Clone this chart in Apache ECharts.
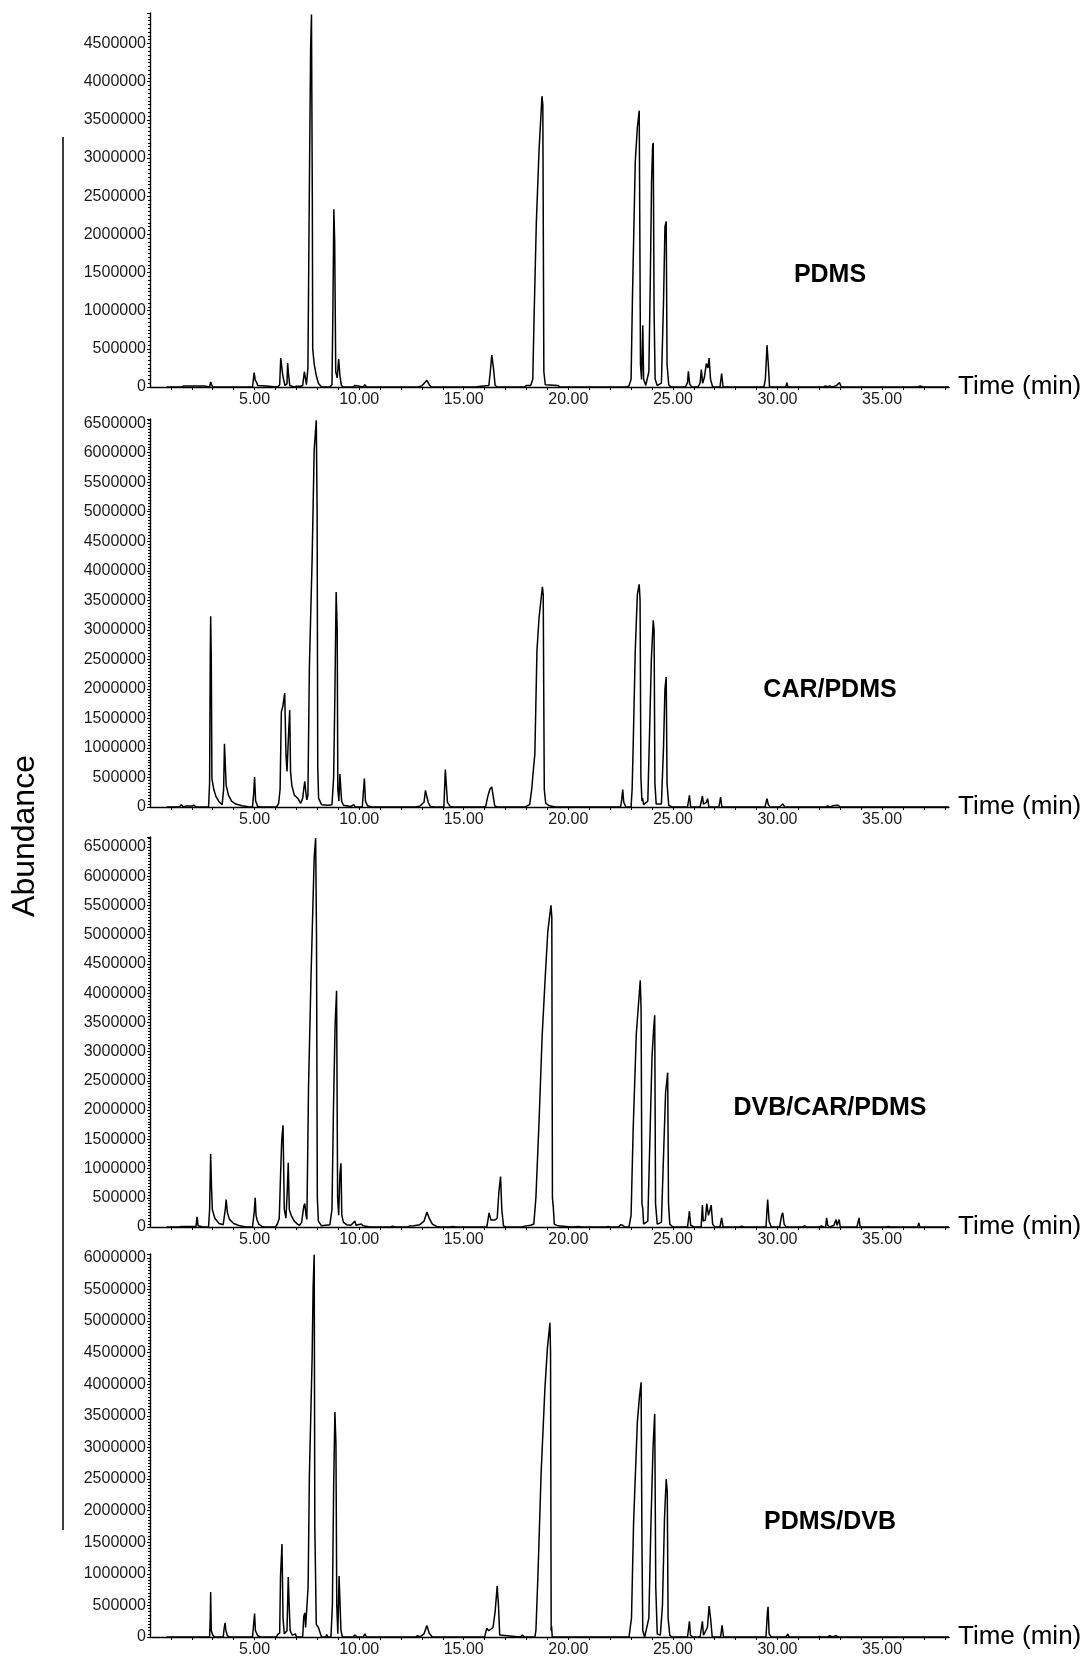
<!DOCTYPE html>
<html>
<head>
<meta charset="utf-8">
<title>Total ion chromatograms by SPME fibre</title>
<script src="https://cdn.jsdelivr.net/npm/echarts@6/dist/echarts.min.js"></script>
<style>
  html, body { margin: 0; padding: 0; background: #fff; }
  #chart { width: 1091px; height: 1660px; }
</style>
</head>
<body>
<div id="chart"></div>
<script>
// fibre names, one panel each, top to bottom
const fibres = ['PDMS', 'CAR/PDMS', 'DVB/CAR/PDMS', 'PDMS/DVB']

// top of each abundance axis
const yMax = [4900000, 6570000, 6670000, 6060000]
const timeMax = 38.2
const timeLabels = [5, 10, 15, 20, 25, 30, 35]

// [time (min), abundance]
const pdms = [
  [0.8, 0], [1.5, 0], [1.6, 12000], [2.6, 12000], [2.65, 0], [2.85, 0], [2.9, 65000], [2.95, 30000], [3.0, 0],
  [3.6, 0], [3.65, 8000], [3.7, 0],
  [4.9, 0], [4.98, 190000], [5.03, 90000], [5.1, 60000], [5.15, 20000], [5.4, 15000], [5.45, 0],
  [6.1, 0], [6.2, 30000], [6.25, 380000], [6.3, 360000], [6.35, 150000], [6.45, 20000], [6.55, 40000],
  [6.58, 315000], [6.62, 180000], [6.68, 20000], [6.9, 0], [7.0, 10000], [7.2, 10000],
  [7.3, 20000], [7.38, 200000], [7.42, 200000], [7.48, 30000], [7.55, 250000], [7.62, 2630000],
  [7.68, 4450000], [7.72, 4880000], [7.76, 2500000], [7.78, 500000], [7.85, 300000], [7.95, 150000],
  [8.05, 50000], [8.2, 0],
  [8.6, 0], [8.7, 30000], [8.74, 900000], [8.79, 2330000], [8.83, 1900000], [8.88, 200000], [8.95, 120000],
  [9.02, 365000], [9.08, 150000], [9.15, 20000], [9.25, 0],
  [9.7, 0], [9.8, 20000], [9.85, 0], [10.2, 0], [10.27, 30000], [10.35, 0],
  [12.8, 0], [13.0, 15000], [13.24, 88000], [13.35, 30000], [13.45, 0],
  [15.6, 0], [15.7, 8000], [16.2, 20000], [16.27, 200000], [16.34, 417000], [16.42, 250000], [16.5, 20000], [16.6, 0],
  [17.9, 0], [18.0, 20000], [18.2, 20000], [18.3, 100000], [18.37, 1000000], [18.47, 2150000], [18.6, 3100000],
  [18.74, 3810000], [18.78, 3700000], [18.83, 200000], [18.9, 30000], [19.5, 20000], [19.6, 0],
  [20.3, 0], [20.35, 10000], [20.4, 0], [21.2, 0], [21.25, 10000], [21.3, 0],
  [22.8, 0], [22.9, 15000], [23.0, 100000], [23.07, 1230000], [23.2, 2950000], [23.3, 3400000], [23.39, 3620000],
  [23.45, 300000], [23.5, 100000], [23.56, 810000], [23.6, 100000], [23.7, 20000], [23.85, 200000],
  [23.92, 1400000], [23.98, 2700000], [24.03, 3150000], [24.06, 3200000], [24.1, 1000000], [24.15, 100000],
  [24.25, 20000], [24.45, 50000], [24.55, 1100000], [24.62, 2100000], [24.68, 2170000], [24.72, 300000],
  [24.8, 30000], [24.9, 0],
  [25.6, 0], [25.7, 60000], [25.74, 206000], [25.8, 40000], [25.9, 0],
  [26.2, 0], [26.3, 50000], [26.36, 228000], [26.42, 50000], [26.5, 120000], [26.6, 307000], [26.68, 250000],
  [26.73, 380000], [26.8, 100000], [26.9, 0],
  [27.25, 0], [27.33, 175000], [27.4, 0], [28.0, 0], [28.05, 10000], [28.1, 0],
  [29.35, 0], [29.42, 100000], [29.5, 548000], [29.56, 300000], [29.62, 0],
  [30.4, 0], [30.45, 57000], [30.5, 0], [31.4, 0], [31.45, 10000], [31.5, 0],
  [32.2, 0], [32.3, 15000], [32.4, 0], [32.5, 15000], [32.6, 0], [32.8, 15000], [32.97, 57000], [33.05, 0],
  [36.7, 0], [36.8, 12000], [37.0, 0], [38.2, 0]
]

const carPdms = [
  [0.8, 0], [1.4, 0], [1.5, 40000], [1.6, 0], [1.7, 15000], [2.0, 15000], [2.1, 30000], [2.2, 0],
  [2.8, 0], [2.85, 420000], [2.88, 2490000], [2.9, 3230000], [2.93, 2500000], [2.96, 480000], [3.05, 300000],
  [3.15, 180000], [3.3, 90000], [3.45, 40000],
  [3.52, 300000], [3.56, 1070000], [3.6, 1050000], [3.64, 370000], [3.75, 200000], [3.9, 100000], [4.1, 50000],
  [4.4, 20000], [4.7, 5000],
  [4.9, 0], [4.95, 200000], [5.0, 508000], [5.05, 100000], [5.1, 80000], [5.15, 10000], [5.3, 0],
  [6.05, 0], [6.15, 60000], [6.22, 300000], [6.28, 1610000], [6.35, 1700000], [6.44, 1930000], [6.5, 900000],
  [6.55, 600000], [6.62, 1200000], [6.68, 1640000], [6.72, 600000], [6.78, 367000], [6.9, 200000],
  [7.0, 170000], [7.1, 130000], [7.2, 60000],
  [7.3, 150000], [7.35, 300000], [7.4, 435000], [7.45, 250000], [7.5, 120000], [7.55, 200000], [7.62, 2370000],
  [7.75, 4180000], [7.85, 6050000], [7.95, 6550000], [7.99, 5000000], [8.02, 700000], [8.06, 150000],
  [8.2, 40000], [8.5, 30000], [8.7, 40000],
  [8.78, 500000], [8.84, 1920000], [8.9, 3640000], [8.95, 3000000], [8.98, 300000], [9.03, 100000],
  [9.08, 560000], [9.12, 565000], [9.16, 100000], [9.25, 30000], [9.6, 10000], [9.75, 40000], [9.8, 0],
  [10.15, 0], [10.2, 250000], [10.25, 480000], [10.3, 100000], [10.4, 20000], [10.6, 0],
  [12.7, 0], [12.9, 15000], [13.1, 80000], [13.17, 282000], [13.22, 200000], [13.3, 80000], [13.4, 10000], [13.6, 0],
  [14.05, 0], [14.12, 633000], [14.17, 600000], [14.22, 80000], [14.35, 10000], [14.5, 0],
  [15.9, 0], [16.05, 10000], [16.15, 180000], [16.25, 300000], [16.34, 339000], [16.4, 200000], [16.48, 20000], [16.6, 0],
  [17.9, 0], [18.0, 15000], [18.15, 40000], [18.25, 300000], [18.32, 593000], [18.4, 900000], [18.5, 2650000],
  [18.6, 3200000], [18.76, 3730000], [18.8, 3600000], [18.85, 300000], [18.92, 60000], [19.1, 20000], [19.4, 0],
  [22.5, 0], [22.55, 120000], [22.6, 294000], [22.65, 80000], [22.75, 0],
  [23.0, 0], [23.05, 300000], [23.1, 1020000], [23.2, 2650000], [23.3, 3600000], [23.39, 3770000],
  [23.43, 3500000], [23.47, 500000], [23.52, 100000], [23.55, 150000], [23.6, 40000], [23.8, 100000],
  [23.88, 1200000], [23.97, 2500000], [24.06, 3160000], [24.1, 3000000], [24.14, 400000], [24.2, 50000],
  [24.45, 50000], [24.55, 1000000], [24.62, 2000000], [24.68, 2200000], [24.72, 400000], [24.8, 30000], [24.95, 0],
  [25.7, 0], [25.79, 198000], [25.85, 0], [26.3, 0], [26.41, 186000], [26.46, 50000], [26.6, 80000],
  [26.66, 141000], [26.72, 0], [27.2, 0], [27.28, 169000], [27.34, 0],
  [29.4, 0], [29.5, 141000], [29.56, 40000], [29.65, 0], [30.1, 0], [30.25, 50000], [30.35, 0],
  [32.3, 0], [32.4, 20000], [32.5, 0], [32.7, 25000], [32.9, 30000], [33.0, 0], [38.2, 0]
]

const dvbCarPdms = [
  [0.8, 0], [1.4, 0], [1.5, 10000], [2.0, 10000], [2.2, 10000], [2.25, 172000], [2.3, 20000], [2.5, 5000], [2.8, 0],
  [2.85, 300000], [2.9, 1250000], [2.94, 700000], [2.98, 300000], [3.1, 150000], [3.3, 60000], [3.5, 40000],
  [3.6, 300000], [3.64, 471000], [3.7, 250000], [3.8, 130000], [4.0, 60000], [4.3, 20000], [4.6, 0],
  [4.9, 0], [4.98, 250000], [5.03, 500000], [5.07, 200000], [5.12, 120000], [5.2, 50000], [5.35, 10000], [5.5, 0],
  [6.0, 0], [6.1, 60000], [6.18, 150000], [6.24, 862000], [6.3, 1500000], [6.36, 1740000], [6.42, 300000],
  [6.5, 150000], [6.56, 600000], [6.61, 1100000], [6.66, 300000], [6.75, 200000], [6.9, 100000], [7.05, 50000],
  [7.15, 30000], [7.25, 80000], [7.35, 350000], [7.4, 402000], [7.46, 200000], [7.5, 130000], [7.58, 2410000],
  [7.7, 4310000], [7.85, 6320000], [7.92, 6650000], [7.96, 5000000], [8.0, 500000], [8.05, 100000], [8.2, 20000],
  [8.6, 40000],
  [8.7, 300000], [8.77, 2000000], [8.85, 3450000], [8.92, 4040000], [8.97, 500000], [9.02, 200000],
  [9.08, 900000], [9.13, 1090000], [9.17, 200000], [9.25, 80000], [9.4, 40000], [9.6, 30000], [9.8, 100000],
  [9.85, 30000], [10.1, 50000], [10.2, 20000], [10.5, 0],
  [11.5, 0], [11.6, 15000], [11.7, 0], [12.3, 0], [12.4, 15000], [12.6, 20000], [12.9, 40000], [13.1, 100000],
  [13.24, 258000], [13.35, 150000], [13.5, 50000], [13.7, 10000], [13.9, 0],
  [14.3, 0], [14.5, 10000], [14.6, 0],
  [16.1, 0], [16.15, 100000], [16.21, 241000], [16.3, 120000], [16.5, 120000], [16.6, 150000], [16.68, 600000],
  [16.76, 862000], [16.82, 300000], [16.9, 20000], [17.0, 0],
  [17.8, 0], [17.9, 15000], [18.2, 30000], [18.35, 50000], [18.45, 500000], [18.6, 1800000], [18.75, 3280000],
  [18.9, 4300000], [19.02, 5060000], [19.17, 5500000], [19.21, 5300000], [19.24, 500000], [19.28, 345000],
  [19.33, 50000], [19.5, 20000], [19.9, 10000], [20.2, 0],
  [20.5, 10000], [20.6, 0], [21.8, 0], [21.9, 10000], [22.0, 0],
  [22.4, 0], [22.5, 40000], [22.6, 30000], [22.7, 0],
  [22.9, 0], [23.0, 200000], [23.1, 1670000], [23.25, 3300000], [23.33, 3690000], [23.44, 4220000],
  [23.48, 3700000], [23.52, 400000], [23.56, 316000], [23.6, 50000], [23.8, 100000], [23.9, 1500000],
  [24.0, 2900000], [24.08, 3400000], [24.13, 3620000], [24.17, 400000], [24.25, 50000], [24.45, 80000],
  [24.55, 1200000], [24.65, 2300000], [24.75, 2640000], [24.79, 400000], [24.85, 50000], [25.0, 0],
  [25.7, 0], [25.79, 270000], [25.85, 30000], [26.0, 0], [26.35, 0], [26.41, 374000], [26.45, 100000],
  [26.55, 120000], [26.62, 402000], [26.7, 200000], [26.78, 300000], [26.83, 374000], [26.9, 50000], [27.0, 0],
  [27.25, 0], [27.33, 155000], [27.4, 0], [28.2, 0], [28.3, 15000], [28.4, 0],
  [29.45, 0], [29.53, 471000], [29.6, 100000], [29.7, 0], [30.1, 0], [30.2, 200000], [30.25, 241000],
  [30.32, 50000], [30.4, 0],
  [31.2, 0], [31.3, 20000], [31.4, 0], [32.0, 0], [32.1, 20000], [32.2, 0], [32.3, 0], [32.35, 155000],
  [32.4, 30000], [32.5, 0], [32.7, 30000], [32.8, 126000], [32.85, 30000], [32.95, 126000], [33.0, 0],
  [33.8, 0], [33.9, 155000], [33.95, 0], [35.2, 0], [35.3, 10000], [35.4, 0], [36.7, 0], [36.76, 69000],
  [36.8, 0], [38.2, 0]
]

const pdmsDvb = [
  [0.8, 0], [2.85, 0], [2.88, 300000], [2.9, 710000], [2.93, 100000], [3.0, 30000], [3.1, 0],
  [3.5, 0], [3.55, 150000], [3.59, 223000], [3.63, 100000], [3.7, 20000], [3.8, 0],
  [4.9, 0], [4.95, 180000], [5.0, 371000], [5.04, 100000], [5.1, 120000], [5.15, 20000], [5.3, 0],
  [6.05, 0], [6.1, 40000], [6.2, 60000], [6.24, 964000], [6.31, 1470000], [6.36, 300000], [6.42, 50000],
  [6.55, 100000], [6.61, 949000], [6.65, 540000], [6.7, 100000], [6.8, 30000], [6.95, 50000], [7.0, 0],
  [7.3, 0], [7.35, 320000], [7.4, 382000], [7.44, 150000], [7.5, 150000], [7.56, 800000], [7.62, 2550000],
  [7.75, 4400000], [7.8, 5550000], [7.85, 6050000], [7.88, 1760000], [7.95, 200000], [8.05, 150000],
  [8.15, 50000], [8.2, 0],
  [8.4, 0], [8.45, 40000], [8.5, 0], [8.65, 0], [8.72, 500000], [8.78, 2370000], [8.84, 3560000],
  [8.89, 3060000], [8.93, 500000], [8.98, 50000], [9.04, 964000], [9.09, 964000], [9.13, 100000], [9.2, 0],
  [9.7, 0], [9.8, 30000], [9.9, 0], [10.2, 0], [10.27, 50000], [10.35, 0],
  [12.7, 0], [12.8, 20000], [12.9, 0], [13.1, 50000], [13.24, 180000], [13.35, 60000], [13.5, 0],
  [16.0, 0], [16.1, 140000], [16.2, 100000], [16.4, 150000], [16.5, 400000], [16.6, 805000], [16.66, 500000],
  [16.72, 30000], [16.8, 0],
  [17.7, 0], [17.8, 30000], [17.9, 0],
  [18.4, 0], [18.45, 100000], [18.55, 1000000], [18.7, 2600000], [18.88, 3930000], [19.0, 4570000],
  [19.12, 4970000], [19.15, 4500000], [19.18, 100000], [19.2, 170000], [19.23, 0],
  [22.9, 0], [23.02, 300000], [23.12, 1810000], [23.3, 3400000], [23.4, 3800000], [23.48, 4030000],
  [23.52, 1500000], [23.56, 100000], [23.65, 0], [23.85, 300000], [23.95, 1800000], [24.05, 3000000],
  [24.13, 3530000], [24.18, 800000], [24.25, 50000], [24.4, 30000], [24.5, 500000], [24.6, 1900000],
  [24.68, 2500000], [24.73, 2300000], [24.77, 300000], [24.85, 30000], [24.95, 0],
  [25.7, 0], [25.79, 249000], [25.84, 30000], [25.95, 0], [26.3, 0], [26.41, 249000], [26.46, 30000],
  [26.55, 60000], [26.65, 150000], [26.73, 488000], [26.8, 300000], [26.88, 0], [27.28, 0], [27.35, 185000],
  [27.42, 0],
  [29.45, 0], [29.52, 400000], [29.55, 477000], [29.6, 50000], [29.7, 0], [30.4, 0], [30.5, 48000],
  [30.55, 0], [31.9, 0], [32.0, 10000], [32.1, 0], [32.4, 0], [32.5, 20000], [32.6, 0], [32.8, 20000],
  [32.9, 0], [38.2, 0]
]

const traces = [pdms, carPdms, dvbCarPdms, pdmsDvb]

// panel placement in pixels (top of axis, baseline)
const panelTop = [13, 419, 837, 1254]
const panelBase = [387, 807, 1227, 1637]
const labelY = [275, 690, 1108, 1522]

const font = 'Arial, "Liberation Sans", sans-serif'
const ink = '#000'

const chart = echarts.init(document.getElementById('chart'), null, { renderer: 'canvas' })

const grids = fibres.map((_, i) => ({
  left: 150,
  width: 799,
  top: panelTop[i],
  height: panelBase[i] - panelTop[i],
}))

const xAxes = fibres.map((_, i) => ({
  gridIndex: i,
  type: 'value',
  min: 0,
  max: timeMax,
  interval: 1,
  name: 'Time (min)',
  nameLocation: 'end',
  nameGap: 9,
  nameTextStyle: { color: ink, fontSize: 26, fontFamily: font },
  axisLine: { onZero: false, lineStyle: { color: ink, width: 1.4 } },
  axisTick: { length: 3, lineStyle: { color: ink } },
  splitLine: { show: false },
  axisLabel: {
    color: '#1a1a1a',
    fontSize: 16,
    fontFamily: font,
    margin: 5,
    showMinLabel: false,
    showMaxLabel: false,
    // only the five-minute marks carry a label
    formatter: (v) => (timeLabels.includes(v) ? v.toFixed(2) : ''),
  },
}))

const yAxes = fibres.map((_, i) => ({
  gridIndex: i,
  type: 'value',
  min: 0,
  max: yMax[i],
  interval: 500000,
  axisLine: { show: true, lineStyle: { color: ink, width: 1.4 } },
  axisTick: { show: true, length: 3, lineStyle: { color: ink } },
  minorTick: { show: true, splitNumber: 10, length: 2, lineStyle: { color: ink } },
  splitLine: { show: false },
  axisLabel: {
    color: '#1a1a1a',
    fontSize: 16,
    fontFamily: font,
    margin: 4,
    showMaxLabel: false,
    formatter: (v) => (v % 500000 === 0 ? String(v) : ''),
  },
}))

const series = traces.map((data, i) => ({
  name: fibres[i],
  type: 'line',
  xAxisIndex: i,
  yAxisIndex: i,
  data: data,
  showSymbol: false,
  symbol: 'none',
  lineStyle: { color: ink, width: 1.5 },
  silent: true,
}))

const labels = fibres.map((name, i) => ({
  type: 'text',
  x: 830,
  y: labelY[i],
  style: {
    text: name,
    fill: ink,
    font: 'bold 25px ' + font,
    textAlign: 'center',
    textVerticalAlign: 'middle',
  },
}))

chart.setOption({
  animation: false,
  backgroundColor: '#fff',
  grid: grids,
  xAxis: xAxes,
  yAxis: yAxes,
  series: series,
  graphic: [
    // shared abundance bracket on the left
    {
      type: 'line',
      shape: { x1: 63, y1: 137, x2: 63, y2: 1530 },
      style: { stroke: ink, lineWidth: 1.5 },
    },
    {
      type: 'text',
      x: 25,
      y: 836,
      rotation: Math.PI / 2,
      style: {
        text: 'Abundance',
        fill: ink,
        font: '32px ' + font,
        textAlign: 'center',
        textVerticalAlign: 'middle',
      },
    },
    ...labels,
  ],
})

window.addEventListener('resize', () => chart.resize())
</script>
</body>
</html>
